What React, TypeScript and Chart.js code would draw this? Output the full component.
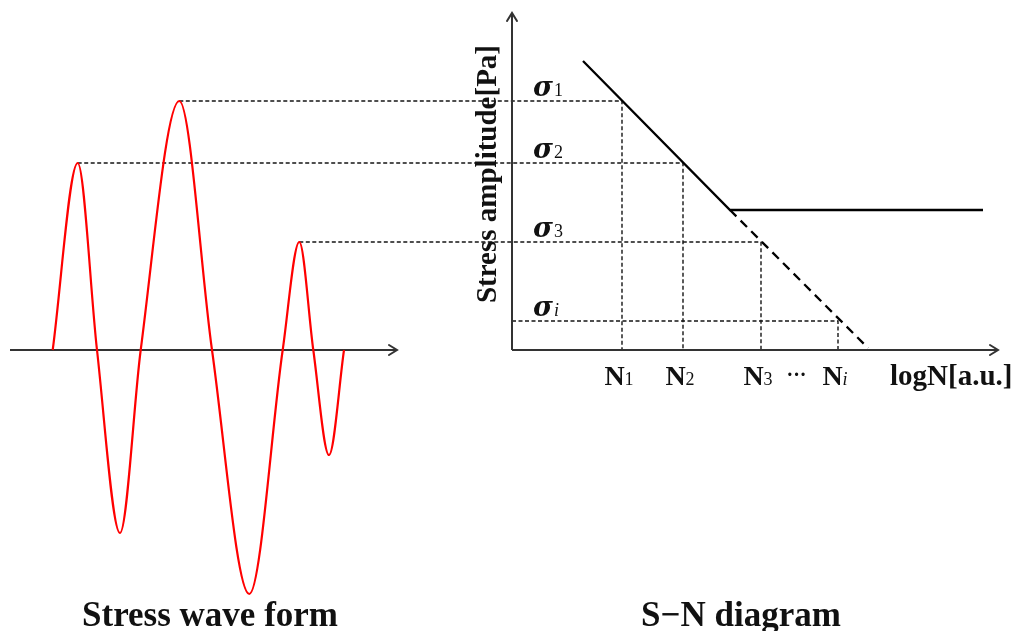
import React, { useEffect, useRef } from 'react';
import { Chart, registerables } from 'chart.js';

Chart.register(...registerables);

// ---- Stress wave form (time in diagram units, stress amplitude in diagram units) ----
const waveTime = [52.7, 77.7, 97, 120, 140.7, 179.3, 212, 249.3, 282.7, 299.3, 313.3, 329, 344];
const waveStress = [0, 187, 0, -183, 0, 249, 0, -244, 0, 108, 0, -105, 0];
const waveAxisTime = [10, 397];

// ---- S-N diagram (logN in diagram units) ----
const snOriginN = 512;
const snAxisEndN = 998;
const snAxisTopStress = 337;
const snCurveN = [583, 730, 983];
const snCurveStress = [289, 140, 140];
const snExtensionN = [730, 868];
const snExtensionStress = [140, 2];

// stress levels sigma_1, sigma_2, sigma_3, sigma_i and their lives N_1 ... N_i
const sigmaNames = ['1', '2', '3', 'i'];
const sigmaLevels = [249, 187, 108, 29];
const peakTimes: (number | null)[] = [179.3, 77.7, 299.3, null];
const lifeNames = ['1', '2', '3', 'i'];
const lifeValues = [622, 683, 761, 838];

const SERIF = "'Liberation Serif', 'Times New Roman', serif";
const GREEK = "'DejaVu Serif', 'Liberation Serif', serif";

export default function App() {
  const ref = useRef<HTMLCanvasElement>(null);

  useEffect(() => {
    document.body.style.margin = '0';
    const canvas = ref.current;
    if (!canvas) return;
    const pts = (xs: number[], ys: number[]) => xs.map((x, i) => ({ x, y: ys[i] }));

    const datasets: any[] = [];
    const dashStyle = { borderColor: '#151515', borderWidth: 1.4, borderDash: [4, 2.5], pointRadius: 0, fill: false, order: 3 };

    // connector dashed lines
    sigmaLevels.forEach((lvl, i) => {
      const start = peakTimes[i] ?? snOriginN;
      datasets.push({
        label: 'sigma' + sigmaNames[i],
        data: [
          { x: start, y: lvl },
          { x: lifeValues[i], y: lvl },
          { x: lifeValues[i], y: 0 },
        ],
        ...dashStyle,
      });
    });

    // axes
    const axisStyle = { borderColor: '#333333', borderWidth: 2, pointRadius: 0, fill: false, order: 2 };
    datasets.push({ label: 'waveAxis', data: pts(waveAxisTime, [0, 0]), ...axisStyle });
    datasets.push({ label: 'snXAxis', data: [{ x: snOriginN, y: 0 }, { x: snAxisEndN, y: 0 }], ...axisStyle });
    datasets.push({ label: 'snYAxis', data: [{ x: snOriginN, y: 0 }, { x: snOriginN, y: snAxisTopStress }], ...axisStyle });

    // S-N curve
    datasets.push({ label: 'SN', data: pts(snCurveN, snCurveStress), borderColor: '#000', borderWidth: 2.3, pointRadius: 0, fill: false, order: 1 });
    datasets.push({ label: 'SNext', data: pts(snExtensionN, snExtensionStress), borderColor: '#000', borderWidth: 2.3, borderDash: [9, 6], pointRadius: 0, fill: false, order: 1 });

    // wave
    datasets.push({
      label: 'wave',
      data: pts(waveTime, waveStress),
      borderColor: '#ff0000',
      borderWidth: 2.2,
      cubicInterpolationMode: 'monotone',
      pointRadius: 0,
      fill: false,
      order: 0,
    });

    const annot = {
      id: 'annot',
      afterDatasetsDraw(chart: any) {
        const { ctx } = chart;
        const xs = chart.scales.x;
        const ys = chart.scales.y;
        const px = (v: number) => xs.getPixelForValue(v);
        const py = (v: number) => ys.getPixelForValue(v);
        ctx.save();
        // arrowheads
        ctx.strokeStyle = '#333333';
        ctx.lineWidth = 2;
        ctx.lineCap = 'round';
        const arrow = (x: number, y: number, dx: number, dy: number) => {
          const L = 8, W = 5;
          const nx = -dy, ny = dx;
          ctx.beginPath();
          ctx.moveTo(x - dx * L + nx * W, y - dy * L + ny * W);
          ctx.lineTo(x, y);
          ctx.lineTo(x - dx * L - nx * W, y - dy * L - ny * W);
          ctx.stroke();
        };
        arrow(px(waveAxisTime[1]), py(0), 1, 0);
        arrow(px(snAxisEndN), py(0), 1, 0);
        arrow(px(snOriginN), py(snAxisTopStress), 0, -1);

        ctx.fillStyle = '#111';
        ctx.textBaseline = 'alphabetic';
        // sigma labels
        sigmaLevels.forEach((lvl, i) => {
          const x0 = px(snOriginN) + 21;
          const y0 = py(lvl) - 5;
          ctx.textAlign = 'left';
          ctx.font = `italic bold 27px ${GREEK}`;
          ctx.fillText('\u03C3', x0, y0);
          const w = ctx.measureText('\u03C3').width;
          ctx.font = (sigmaNames[i] === 'i' ? 'italic ' : '') + `18px ${SERIF}`;
          ctx.fillText(sigmaNames[i], x0 + w + 1, y0);
        });
        // N labels
        const baseN = py(0) + 35;
        lifeValues.forEach((n, i) => {
          ctx.font = `bold 28px ${SERIF}`;
          const wN = ctx.measureText('N').width;
          ctx.font = (lifeNames[i] === 'i' ? 'italic ' : '') + `18px ${SERIF}`;
          const wS = ctx.measureText(lifeNames[i]).width;
          const x0 = px(n) - 3 - (wN + wS) / 2;
          ctx.textAlign = 'left';
          ctx.font = `bold 28px ${SERIF}`;
          ctx.fillText('N', x0, baseN);
          ctx.font = (lifeNames[i] === 'i' ? 'italic ' : '') + `18px ${SERIF}`;
          ctx.fillText(lifeNames[i], x0 + wN, baseN);
        });
        ctx.font = `bold 20px ${SERIF}`;
        ctx.textAlign = 'center';
        ctx.fillText('\u00B7\u00B7\u00B7', (px(lifeValues[2]) + px(lifeValues[3])) / 2 - 3, baseN - 4);
        // axis titles
        ctx.font = `bold 29px ${SERIF}`;
        ctx.textAlign = 'left';
        ctx.fillText('logN[a.u.]', 890, baseN);
        ctx.save();
        ctx.translate(px(snOriginN) - 16, 174);
        ctx.rotate(-Math.PI / 2);
        ctx.textAlign = 'center';
        ctx.fillText('Stress amplitude[Pa]', 0, 0);
        ctx.restore();
        // bottom titles
        ctx.font = `bold 35px ${SERIF}`;
        ctx.textAlign = 'center';
        ctx.fillText('Stress wave form', 210, 626);
        ctx.fillText('S\u2212N diagram', 741, 626);
        ctx.restore();
      },
    };

    const chart = new Chart(canvas, {
      type: 'line',
      data: { datasets },
      options: {
        animation: false,
        responsive: false,
        devicePixelRatio: 1,
        events: [],
        layout: { padding: 0 },
        plugins: { legend: { display: false }, tooltip: { enabled: false } },
        scales: {
          x: { type: 'linear', min: 0, max: 1016, display: false },
          y: { type: 'linear', min: -281, max: 350, display: false },
        },
      },
      plugins: [annot],
    } as any);
    return () => chart.destroy();
  }, []);

  return (
    <div style={{ position: 'fixed', left: 0, top: 0, width: 1016, height: 631, background: '#fff' }}>
      <canvas ref={ref} width={1016} height={631} style={{ display: 'block', width: 1016, height: 631 }} />
    </div>
  );
}
